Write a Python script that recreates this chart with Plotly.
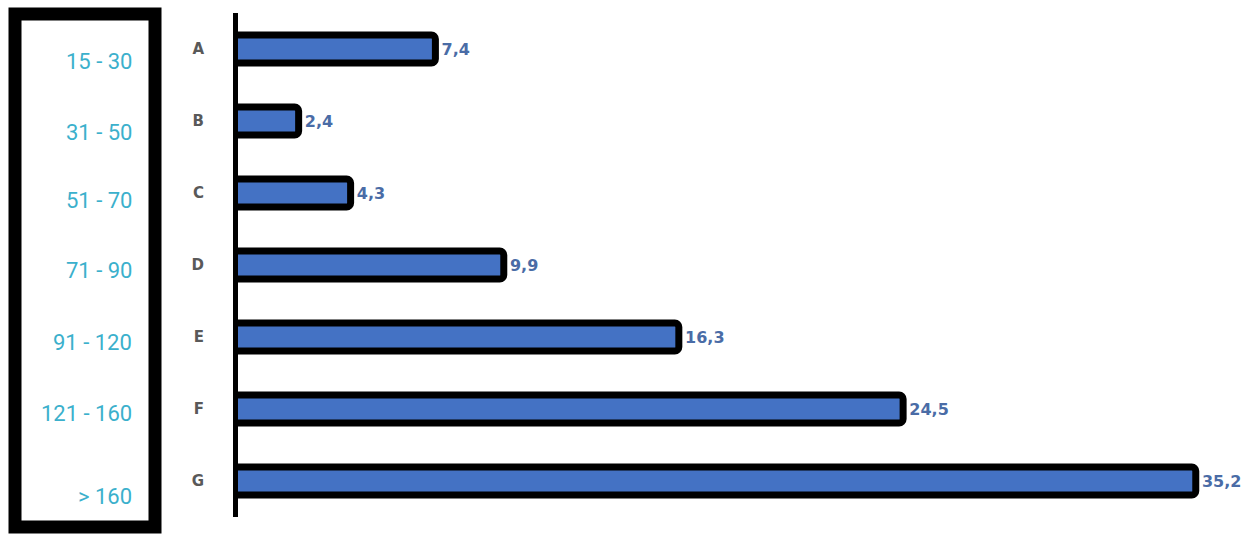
import plotly.graph_objects as go

categories = ["A", "B", "C", "D", "E", "F", "G"]
values = [7.4, 2.4, 4.3, 9.9, 16.3, 24.5, 35.2]
value_labels = ["7,4", "2,4", "4,3", "9,9", "16,3", "24,5", "35,2"]
range_labels = ["15 - 30", "31 - 50", "51 - 70", "71 - 90", "91 - 120", "121 - 160", "> 160"]

W, H = 1258, 535
L, R, T, B = 233, 13, 13, 18
PW, PH = W - L - R, H - T - B

def px(xp):
    return (xp - L) / PW

def py(yp):
    return 1 - (yp - T) / PH

fig = go.Figure(go.Bar(
    y=categories,
    x=values,
    orientation="h",
    width=0.39,
    marker=dict(color="#4472C4", line=dict(color="#000000", width=7), cornerradius=4),
    text=["\u2009" + s for s in value_labels],
    textposition="outside",
    constraintext="none",
    textfont=dict(family="DejaVu Sans", size=16, color="#4A6CA6", weight="bold"),
    cliponaxis=False,
    hoverinfo="skip",
))

label_shift = [-12, -11, -7, -5, -5, -4, -15]
for lab, cat, sh in zip(range_labels, categories, label_shift):
    fig.add_annotation(
        x=px(134), xref="paper", xanchor="right",
        y=cat, yref="y", yshift=sh, yanchor="middle",
        text=lab, showarrow=False,
        font=dict(family="Roboto", size=22, color="#3BB0CC"),
    )

# left framed box
fig.add_shape(type="rect", xref="paper", yref="paper",
              x0=px(15), x1=px(155), y0=py(14), y1=py(527),
              line=dict(color="#000000", width=13), layer="above")
# vertical axis bar
fig.add_shape(type="line", xref="x", yref="paper",
              x0=0, x1=0, y0=0, y1=1,
              line=dict(color="#000000", width=10), layer="above")

fig.update_layout(
    width=W, height=H,
    margin=dict(l=L, r=R, t=T, b=B),
    paper_bgcolor="white", plot_bgcolor="white",
    showlegend=False,
    xaxis=dict(range=[0, 37], visible=False, fixedrange=True),
    yaxis=dict(
        autorange="reversed",
        showgrid=False, zeroline=False, showline=False,
        ticks="", ticklabelstandoff=28,
        tickfont=dict(family="DejaVu Sans", size=15, color="#595959", weight="bold"),
        fixedrange=True,
    ),
)

fig.write_html("out.html", config={"displayModeBar": False})
